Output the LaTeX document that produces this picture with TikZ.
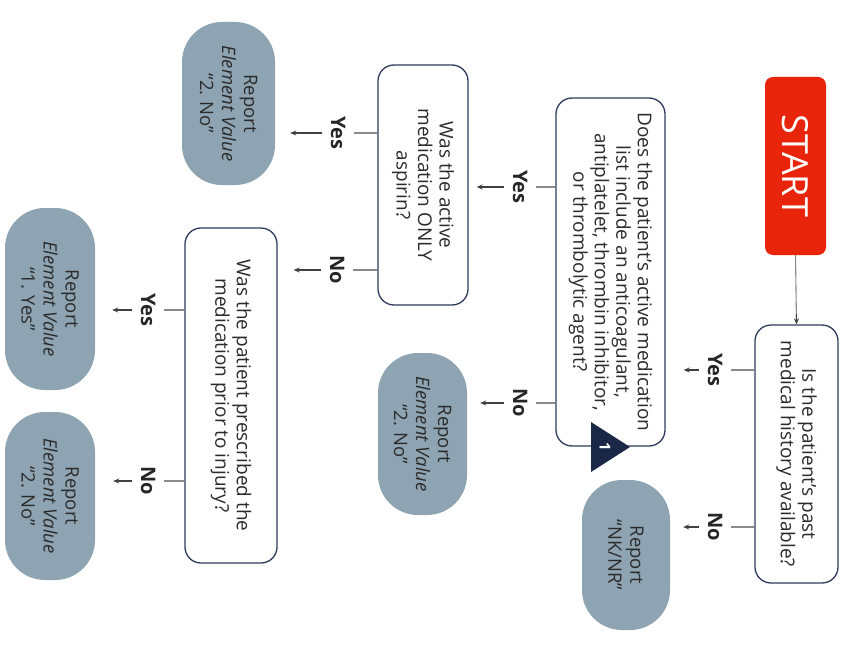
\documentclass[tikz,border=0pt]{standalone}
\usepackage{fontspec}
\setmainfont{Open Sans}
\usetikzlibrary{arrows.meta,calc}
\definecolor{navy}{HTML}{2E3B5B}
\definecolor{startred}{HTML}{E8240B}
\definecolor{repfill}{HTML}{8EA4B2}
\definecolor{txt}{HTML}{2B2B2B}
\definecolor{linegray}{HTML}{8A8A8A}
\definecolor{tri}{HTML}{1B2747}
\begin{document}
\begin{tikzpicture}[x=1pt,y=-1pt,
  startbox/.style={fill=startred, rounded corners=8pt, rotate=-90, text=white,
    font=\fontsize{36}{40}\selectfont, inner sep=0pt},
  qbox/.style={draw=navy, line width=1.3pt, rounded corners=16pt, fill=white, rotate=-90,
    align=center, text=txt, font=\fontsize{19}{21.5}\selectfont, inner sep=2pt},
  rbox/.style={fill=repfill, rounded corners=40pt, rotate=-90, align=center, text=txt,
    font=\fontsize{18.5}{22}\selectfont, inner sep=2pt},
  lbl/.style={rotate=-90, text=black!85, font=\bfseries\fontsize{20}{22}\selectfont,
    text height=14pt, text depth=0pt, inner xsep=0pt, inner ysep=9pt},
  ln/.style={draw=linegray, line width=1.1pt},
  arr/.style={draw=black!75, line width=1.1pt, -{Stealth[length=6pt,width=5pt]}},
]
\useasboundingbox (0,0) rectangle (845,647);

\node[startbox, minimum width=178pt, minimum height=61pt] (start) at (795.5,166) {START};
\node[qbox, minimum width=258pt, minimum height=83pt] (q1) at (796.5,454)
  {Is the patient’s past\\medical history available?};
\node[qbox, minimum width=348pt, minimum height=109pt] (q2) at (610.5,272)
  {Does the patient’s active medication\\list include an anticoagulant,\\antiplatelet, thrombin inhibitor,\\or thrombolytic agent?};
\node[qbox, minimum width=240pt, minimum height=90pt] (q3) at (423,185)
  {Was the active\\medication ONLY\\aspirin?};
\node[qbox, minimum width=335pt, minimum height=92pt] (q4) at (231,395.5)
  {Was the patient prescribed the\\medication prior to injury?};

\node[rbox, minimum width=150pt, minimum height=88pt] (rnk) at (626,555) {Report\\“NK/NR”};
\node[rbox, minimum width=162pt, minimum height=89pt] (r2a) at (422.5,434) {Report\\\textit{Element Value}\\“2. No”};
\node[rbox, minimum width=163pt, minimum height=93pt] (r2b) at (228.5,103.5) {Report\\\textit{Element Value}\\“2. No”};
\node[rbox, minimum width=182pt, minimum height=90pt] (r1y) at (50,299) {Report\\\textit{Element Value}\\“1. Yes”};
\node[rbox, minimum width=168pt, minimum height=90pt] (r2c) at (50,496) {Report\\\textit{Element Value}\\“2. No”};

\fill[tri] (591,422) -- (591,472) -- (630,447) -- cycle;
\node[rotate=-90, text=white, font=\bfseries\fontsize{15}{15}\selectfont] (m1) at (605,447) {1};

\node[lbl] (ly1) at (715,370) {Yes};
\node[lbl] (ln1) at (715,527) {No};
\node[lbl] (ly2) at (520,187) {Yes};
\node[lbl] (ln2) at (520,403) {No};
\node[lbl] (ly3) at (338,133) {Yes};
\node[lbl] (ln3) at (337,270) {No};
\node[lbl] (ly4) at (148,310) {Yes};
\node[lbl] (ln4) at (148,481) {No};

\draw[ln] (start.east) -- ($(start.east)!0.9!(q1.west)$);
\draw[arr] ($(start.east)!0.85!(q1.west)$) -- (q1.west);

\draw[ln] (q1.south |- ly1) -- (ly1.north);
\draw[arr] (ly1.south) -- ($(q2.north |- ly1)+(18,0)$);
\draw[ln] (q1.south |- ln1) -- (ln1.north);
\draw[arr] (ln1.south) -- ($(rnk.north |- ln1)+(13,0)$);

\draw[ln] (q2.south |- ly2) -- (ly2.north);
\draw[arr] (ly2.south) -- ($(q3.north |- ly2)+(8,0)$);
\draw[ln] (q2.south |- ln2) -- (ln2.north);
\draw[arr] (ln2.south) -- ($(r2a.north |- ln2)+(13,0)$);

\draw[ln] (q3.south |- ly3) -- (ly3.north);
\draw[arr] (ly3.south) -- ($(r2b.north |- ly3)+(15,0)$);
\draw[ln] (q3.south |- ln3) -- (ln3.north);
\draw[arr] (ln3.south) -- ($(q4.north |- ln3)+(16,0)$);

\draw[ln] (q4.south |- ly4) -- (ly4.north);
\draw[arr] (ly4.south) -- ($(r1y.north |- ly4)+(17,0)$);
\draw[ln] (q4.south |- ln4) -- (ln4.north);
\draw[arr] (ln4.south) -- ($(r2c.north |- ln4)+(18,0)$);
\end{tikzpicture}
\end{document}
